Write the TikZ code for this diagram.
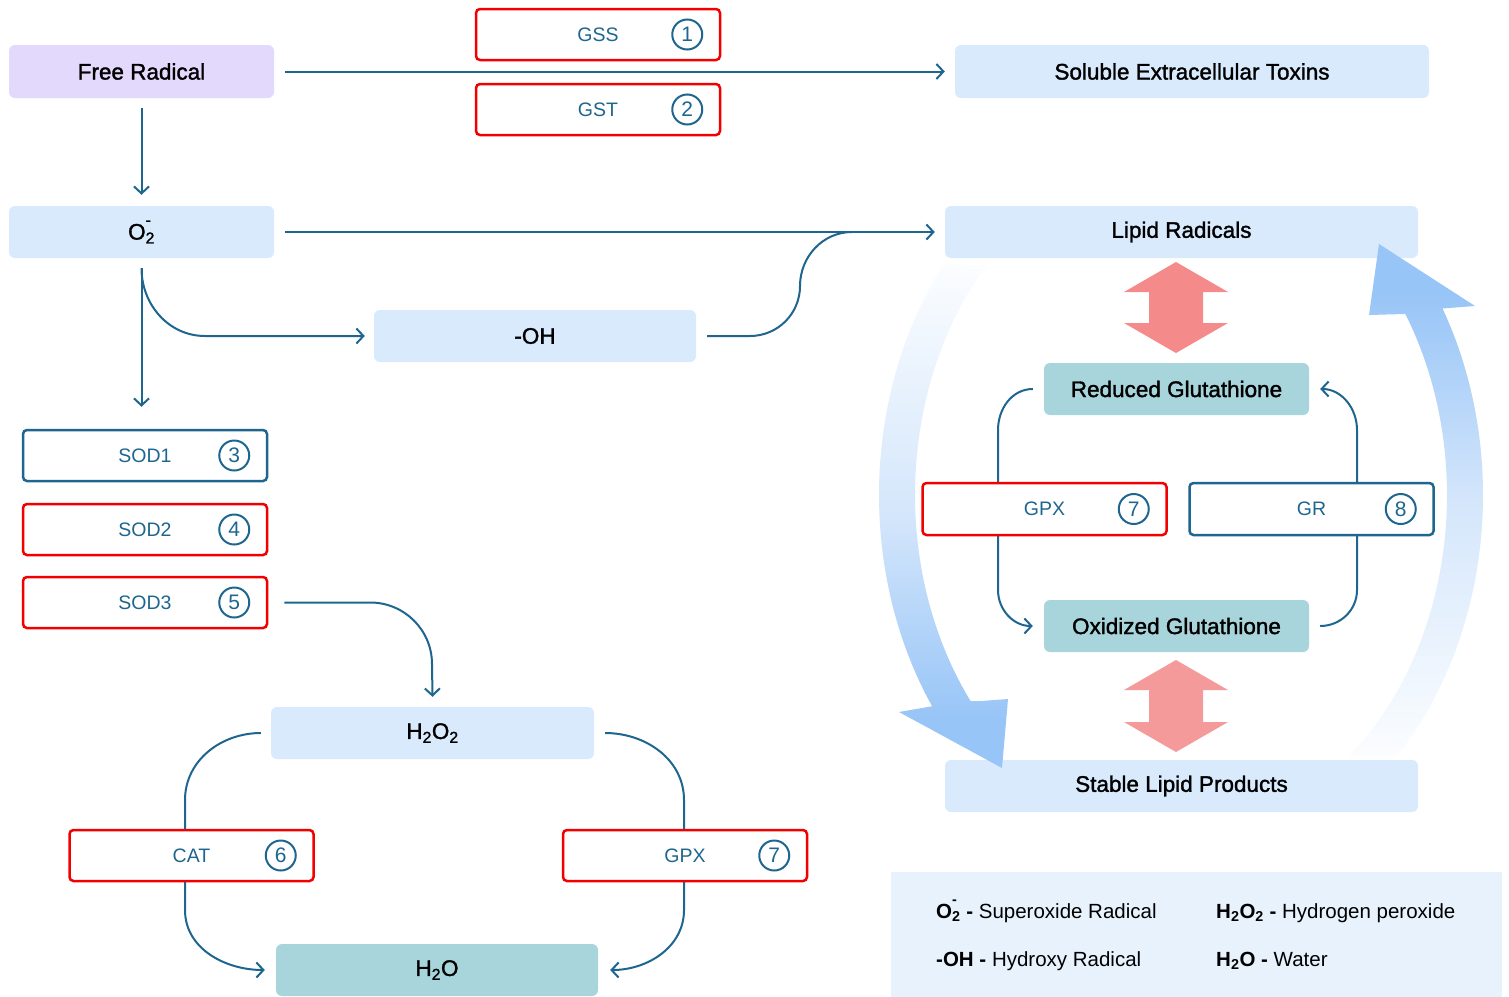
\documentclass[tikz,border=0pt]{standalone}
\usepackage{fontspec}
\setmainfont{Liberation Sans}
\newfontfamily\medfont[FakeBold=1.5]{Liberation Sans}
\usetikzlibrary{arrows.meta,backgrounds,calc}
\definecolor{ln}{HTML}{1E668F}
\definecolor{enzred}{HTML}{F20000}
\definecolor{lav}{HTML}{E3D9FC}
\definecolor{lblue}{HTML}{DAEAFD}
\definecolor{teal}{HTML}{A8D5DB}
\definecolor{legbg}{HTML}{E8F2FD}
\definecolor{redarr}{HTML}{F48A8A}
\definecolor{redarrb}{HTML}{F59A9A}
\definecolor{bandblue}{HTML}{98C5F7}
\definecolor{bandmid}{HTML}{D4E6FB}
\definecolor{bandtop}{HTML}{FBFDFF}
\pgfdeclareverticalshading{leftband}{100bp}{color(0bp)=(bandblue); color(30bp)=(bandblue); color(50bp)=(bandmid); color(75bp)=(bandtop); color(100bp)=(bandtop)}
\pgfdeclareverticalshading{rightband}{100bp}{color(0bp)=(bandtop); color(25bp)=(bandtop); color(50bp)=(bandmid); color(70bp)=(bandblue); color(100bp)=(bandblue)}
\newcommand{\otwo}{O\rlap{\raisebox{0.3em}{\textsuperscript{-}}}\textsubscript{2}}
\tikzset{
  sbox/.style={rounded corners=6pt, inner sep=0pt, font=\medfont\fontsize{22.5}{26}\selectfont, text=black},
  lb/.style={sbox, fill=lblue},
  lv/.style={sbox, fill=lav},
  tl/.style={sbox, fill=teal},
  enzr/.style={draw=enzred, line width=2.5pt, fill=white, rounded corners=4pt, inner sep=0pt,
    font=\fontsize{19.5}{23}\selectfont, text=ln, minimum width=244pt, minimum height=51pt},
  enzb/.style={enzr, draw=ln},
  num/.style={circle, draw=ln, line width=2pt, minimum size=30pt, inner sep=0pt, text=ln,
    font=\fontsize{21}{24}\selectfont},
  plain/.style={draw=ln, line width=2pt},
  conn/.style={plain, -{Straight Barb[length=7pt,width=15pt]}},
  leg/.style={anchor=base west, inner sep=0pt, font=\fontsize{20.5}{24}\selectfont, text=black},
}
\begin{document}
\begin{tikzpicture}[x=1pt,y=-1pt]
\useasboundingbox (0,0) rectangle (1509,996);

% main boxes
\node[lv, minimum width=265pt, minimum height=53pt] (fr) at (141.5,71.5) {Free Radical};
\node[lb, minimum width=474pt, minimum height=53pt] (sol) at (1192,71.5) {Soluble Extracellular Toxins};
\node[lb, minimum width=265pt, minimum height=52pt] (o2) at (141.5,232) {\otwo};
\node[lb, minimum width=473pt, minimum height=52pt] (lip) at (1181.5,232) {Lipid Radicals};
\node[lb, minimum width=322pt, minimum height=52pt] (oh) at (535,336) {-OH};
\node[lb, minimum width=323pt, minimum height=52pt] (h2o2) at (432.5,733) {H\textsubscript{2}O\textsubscript{2}};
\node[tl, minimum width=322pt, minimum height=52pt] (h2o) at (437,970) {H\textsubscript{2}O};
\node[tl, minimum width=265pt, minimum height=52pt] (red) at (1176.5,389) {Reduced Glutathione};
\node[tl, minimum width=265pt, minimum height=52pt] (ox) at (1176.5,626) {Oxidized Glutathione};
\node[lb, minimum width=473pt, minimum height=52pt] (slp) at (1181.5,786) {Stable Lipid Products};

% enzyme boxes
\node[enzr] (gss) at (598,34.5) {GSS};
\node[num] (n1) at ([xshift=-34]gss.east) {1};
\node[enzr] (gst) at (598,109.5) {GST};
\node[num] (n2) at ([xshift=-34]gst.east) {2};
\node[enzb] (sod1) at (145,455.5) {SOD1};
\node[num] (n3) at ([xshift=-34]sod1.east) {3};
\node[enzr] (sod2) at (145,529.5) {SOD2};
\node[num] (n4) at ([xshift=-34]sod2.east) {4};
\node[enzr] (sod3) at (145,602.5) {SOD3};
\node[num] (n5) at ([xshift=-34]sod3.east) {5};
\node[enzr] (cat) at (191.5,855.5) {CAT};
\node[num] (n6) at ([xshift=-34]cat.east) {6};
\node[enzr] (gpxa) at (685,855.5) {GPX};
\node[num] (n7) at ([xshift=-34]gpxa.east) {7};
\node[enzr, minimum height=52pt] (gpxb) at (1044.5,509) {GPX};
\node[num] (n7b) at ([xshift=-34]gpxb.east) {7};
\node[enzb, minimum height=52pt] (gr) at (1311.5,509) {GR};
\node[num] (n8) at ([xshift=-34]gr.east) {8};

% connectors
\begin{scope}[on background layer]
\fill[white] (0,0) rectangle (1509,996);
\draw[conn] ([xshift=11]fr.east) -- ([xshift=-10]sol.west);
\draw[conn] ([yshift=-10]fr.south) -- ([yshift=11]o2.north);
\draw[conn] ([xshift=11]o2.east) -- ([xshift=-10]lip.west);
\draw[conn] ([yshift=-10]o2.south) -- ($(sod1.north -| o2.south)+(0,-22)$);
\draw[conn] ([yshift=-10]o2.south) to[out=-90,in=180] (205,336) -- ([xshift=-9]oh.west);
\draw[plain] ([xshift=11]oh.east) -- (750,336) to[out=0,in=-90] (800,286) to[out=90,in=180] (852,232);
\draw[conn] ([xshift=16]sod3.east) -- ++(86,0) to[out=0,in=90] (432,664) -- ([yshift=10]h2o2.north);
\draw[conn] ([xshift=-10]h2o2.west) to[out=180,in=90] (185,800) -- (185,910) to[out=-90,in=180] ([xshift=-11]h2o.west);
\draw[conn] ([xshift=11]h2o2.east) to[out=0,in=90] (684,800) -- (684,910) to[out=-90,in=0] ([xshift=12]h2o.east);
\draw[conn] ([xshift=-11]red.west) to[out=180,in=90] (998,430) -- (998,590) to[out=-90,in=180] ([xshift=-11]ox.west);
\draw[conn] ([xshift=11]ox.east) to[out=0,in=-90] (1357,590) -- (1357,430) to[out=90,in=0] ([xshift=11]red.east);
\end{scope}

% red double arrows
\fill[redarr] (1176,262) -- (1228,292) -- (1203,292) -- (1203,323) -- (1228,323) -- (1176,353)
  -- (1124,323) -- (1149,323) -- (1149,292) -- (1124,292) -- cycle;
\fill[redarrb] (1176,660) -- (1228,690) -- (1203,690) -- (1203,722) -- (1228,722) -- (1176,752)
  -- (1124,722) -- (1149,722) -- (1149,690) -- (1124,690) -- cycle;

% big blue cycle arrows
\shade[shading=leftband] plot[domain=141.9:214.5, samples=50] ({1181+302*cos(\x)},{495-373*sin(\x)})
  -- (899,712) -- (1002,768) -- (1008,699) -- (981,701)
  -- plot[domain=217.7:137, samples=50] ({1181+266*cos(\x)},{495-337*sin(\x)}) -- cycle;
\shade[shading=rightband] plot[domain=-44.6:30, samples=50] ({1181+302*cos(\x)},{495-373*sin(\x)})
  -- (1475,306) -- (1379,244) -- (1369,315) -- (1404,314)
  -- plot[domain=32.6:-51, samples=50] ({1181+266*cos(\x)},{495-337*sin(\x)}) -- cycle;

% legend
\fill[legbg] (891,872) rectangle (1502,1000);
\node[leg] (l1) at (936,918) {\textbf{\otwo\ -} Superoxide Radical};
\node[leg] (l2) at (1216,918) {\textbf{H\textsubscript{2}O\textsubscript{2} -} Hydrogen peroxide};
\node[leg] (l3) at (936,966) {\textbf{-OH -} Hydroxy Radical};
\node[leg] (l4) at (1216,966) {\textbf{H\textsubscript{2}O -} Water};
\end{tikzpicture}
\end{document}
